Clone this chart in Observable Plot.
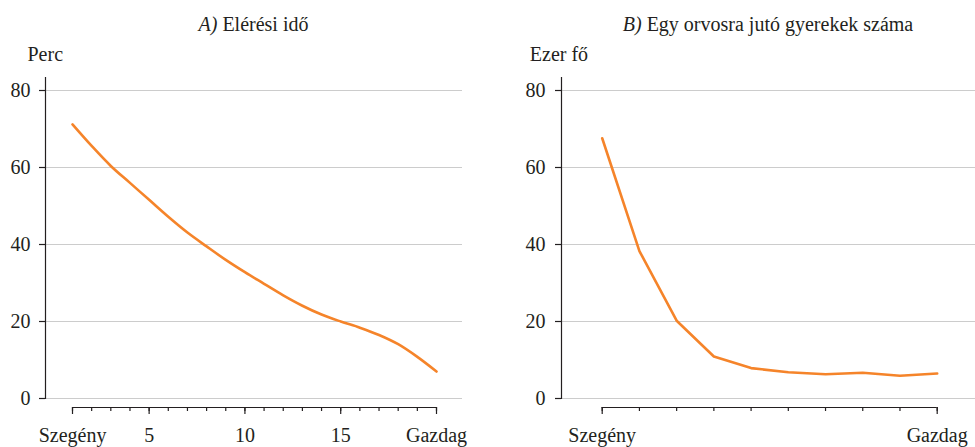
<!DOCTYPE html>
<html>
<head>
<meta charset="utf-8">
<script src="https://cdn.jsdelivr.net/npm/d3@7"></script>
<script src="https://cdn.jsdelivr.net/npm/@observablehq/plot@0.6"></script>
<style>
  html, body { margin: 0; padding: 0; background: #fff; }
  #wrap { display: flex; width: 975px; height: 447px; color: #231f20; }
  .col { flex: none; }
  .title { height: 38px; box-sizing: border-box; padding-top: 12px; font-family: 'Liberation Serif'; font-size: 20px; line-height: 24px; text-align: center; white-space: nowrap; }
  svg text { font-family: 'Liberation Serif' !important; font-size: 20px; }
</style>
</head>
<body>
<div id="wrap"></div>
<script>
// ---- Data ----
const titleA = ["A)", " Elérési idő"];
const titleB = ["B)", " Egy orvosra jutó gyerekek száma"];
const unitA = "Perc";
const unitB = "Ezer fő";

const ventiles = [1,2,3,4,5,6,7,8,9,10,11,12,13,14,15,16,17,18,19,20];
const eleresiIdo = [71.2,65.6,60.4,56.0,51.6,47.2,43.1,39.5,36.0,32.8,29.8,26.8,24.1,21.8,20.0,18.4,16.5,14.1,10.8,7.0];
const ventileTicks = [1,5,10,15,20];
const ventileTickLabels = ["Szegény","5","10","15","Gazdag"];

const deciles = [1,2,3,4,5,6,7,8,9,10];
const gyerekPerOrvos = [67.6,38.3,20.2,10.9,7.9,6.8,6.3,6.7,5.9,6.5];
const decileTicks = [1,10];
const decileTickLabels = ["Szegény","Gazdag"];

const yTicks = [0,20,40,60,80];

const ORANGE = "#f5842a";
const INK = "#231f20";
const GRID = "#cccccc";

function panel({xs, ys, ticks, tickLabels, unit, curve, width, marginLeft, marginRight, insetLeft, insetRight, yPad, unitDx}) {
  const labelOf = new Map(ticks.map((t, i) => [t, tickLabels[i]]));
  const data = xs.map((x, i) => ({x, y: ys[i]}));
  return Plot.plot({
    width,
    height: 409,
    marginLeft,
    marginRight,
    marginTop: 39,
    marginBottom: 49,
    style: {fontFamily: "'Liberation Serif'", fontSize: "20px", color: INK, background: "#fff", overflow: "visible"},
    x: {domain: [d3.min(xs), d3.max(xs)], insetLeft, insetRight},
    y: {domain: [0, 80], insetTop: 13},
    marks: [
      Plot.gridY(yTicks, {stroke: GRID, strokeOpacity: 1, strokeWidth: 1}),
      Plot.frame({anchor: "left", stroke: INK, strokeWidth: 1.2}),
      Plot.axisY(yTicks, {tickSize: 6, tickPadding: yPad, label: null, stroke: INK, strokeWidth: 1.2, fill: INK}),
      Plot.ruleY([0], {x1: d3.min(xs), x2: d3.max(xs), dy: 9, stroke: INK, strokeWidth: 1.2}),
      Plot.axisX(xs, {tickSize: 4, dy: 9, tickFormat: () => "", label: null, stroke: INK, strokeWidth: 1.2}),
      Plot.axisX(ticks, {tickSize: 7, tickPadding: 13.5, dy: 9, tickFormat: d => labelOf.get(d), label: null, stroke: INK, strokeWidth: 1.2, fill: INK}),
      Plot.text([unit], {text: d => d, frameAnchor: "top-left", dx: unitDx, dy: -22.7, textAnchor: "start", lineAnchor: "middle", fill: INK}),
      Plot.line(data, {x: "x", y: "y", stroke: ORANGE, strokeWidth: 2.6, curve})
    ]
  });
}

function column(width, marginLeft, marginRight, title, svg) {
  const col = document.createElement("div");
  col.className = "col";
  col.style.width = width + "px";
  const t = document.createElement("div");
  t.className = "title";
  t.style.paddingLeft = marginLeft + "px";
  t.style.paddingRight = marginRight + "px";
  const i = document.createElement("i");
  i.textContent = title[0];
  t.appendChild(i);
  t.appendChild(document.createTextNode(title[1]));
  col.appendChild(t);
  col.appendChild(svg);
  return col;
}

const wrap = document.getElementById("wrap");
const left = panel({xs: ventiles, ys: eleresiIdo, ticks: ventileTicks, tickLabels: ventileTickLabels, unit: unitA,
  curve: "catmull-rom", width: 487, marginLeft: 45, marginRight: 25, insetLeft: 27, insetRight: 26, yPad: 9, unitDx: -18});
const right = panel({xs: deciles, ys: gyerekPerOrvos, ticks: decileTicks, tickLabels: decileTickLabels, unit: unitB,
  curve: "linear", width: 488, marginLeft: 74, marginRight: 0, insetLeft: 40.7, insetRight: 38.3, yPad: 10, unitDx: -31.7});
wrap.appendChild(column(487, 45, 25, titleA, left));
wrap.appendChild(column(488, 74, 0, titleB, right));
</script>
</body>
</html>
